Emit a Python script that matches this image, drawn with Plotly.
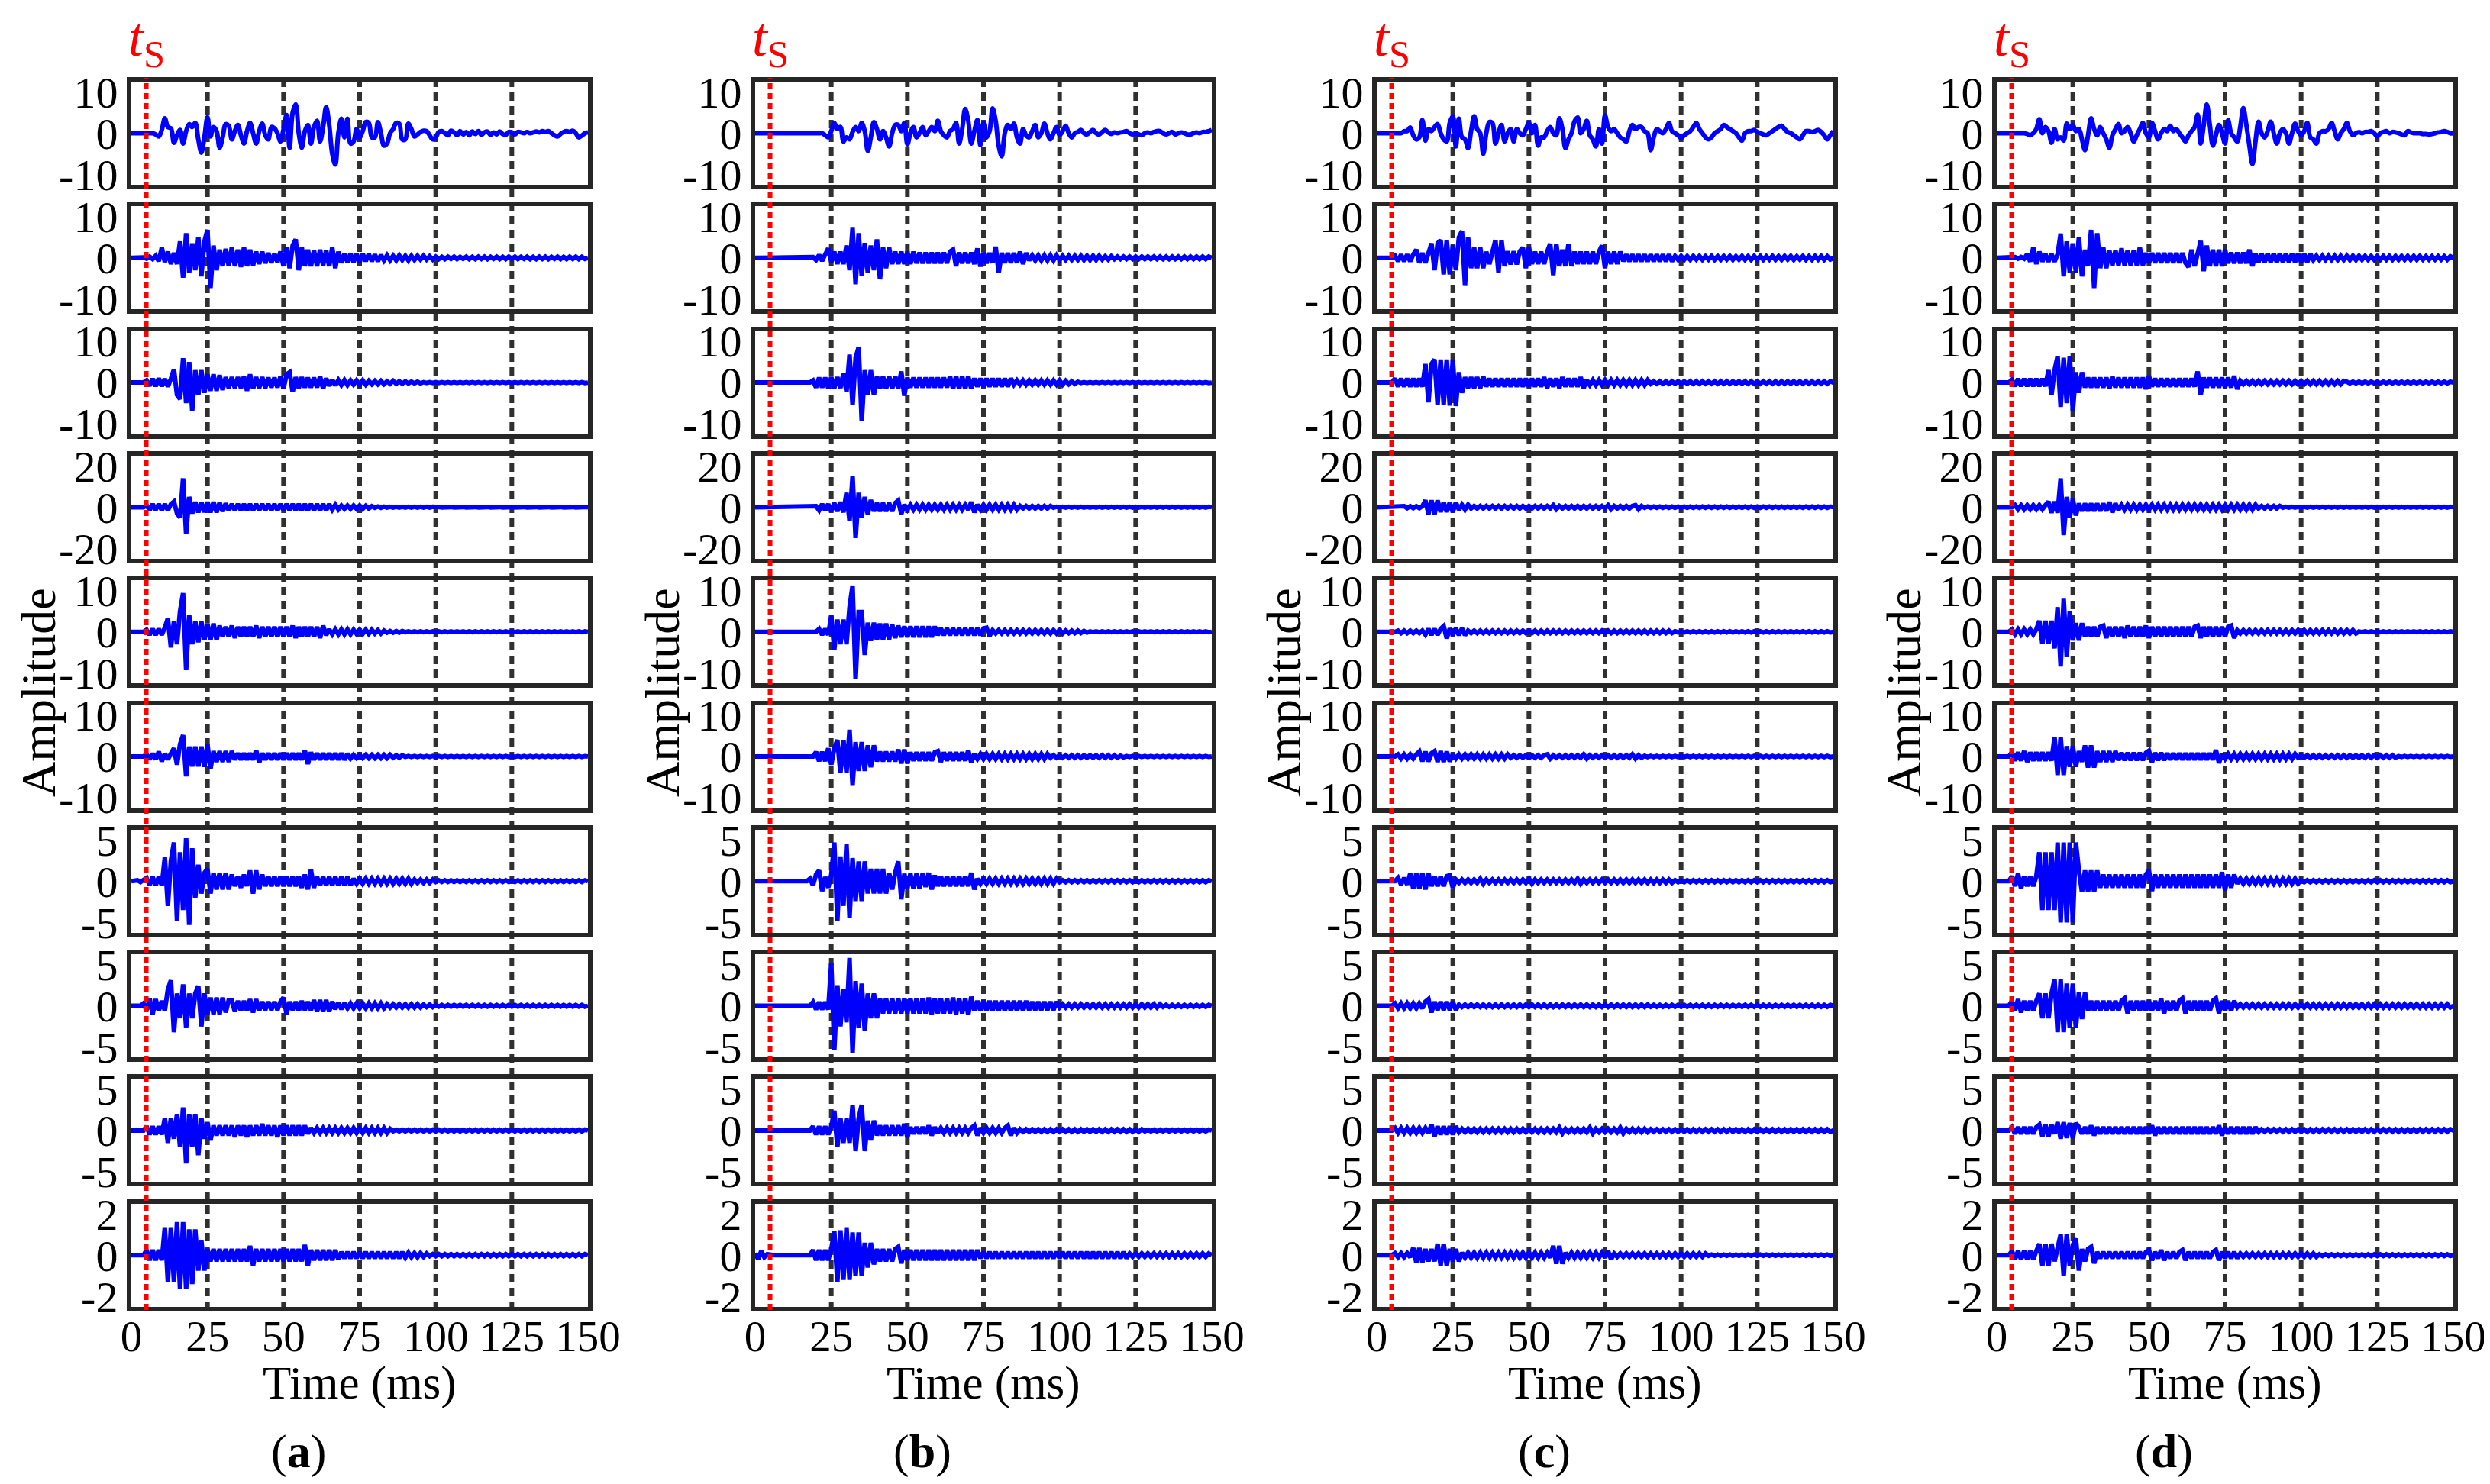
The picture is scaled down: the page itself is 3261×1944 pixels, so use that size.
import plotly.graph_objects as go

W, H = 3261, 1944
T_MS = list(range(151))  # sample times in ms (1 ms step)
Y_TICK = [10, 10, 10, 20, 10, 10, 5, 5, 5, 2]
X_TICKS = [0, 25, 50, 75, 100, 125, 150]
GRID_MS = [25, 50, 75, 100, 125]
TS_MS = 4.9
PANEL_LABELS = ["a", "b", "c", "d"]

# ---------------- column (a) ----------------
A1 = [0,0,0,0,0,0,0,0,-0.3,-0.8,
0.8,3.6,1.5,1.2,-2.3,-0.5,0.8,-2.5,0.5,2.2,
1.5,2.5,-1.5,-4.7,-1,3.9,-0.8,1.5,0.5,-3.5,
-1,2.2,1.8,-1.5,0.5,2,-0.5,-2.5,0.5,2.5,
0,-2.5,0.5,2.3,-0.5,-1.5,1.5,1.2,0,-2,
1,4.4,-3.5,5,7,0,-3.5,0.5,2,-2.5,
1.5,3,-2,1.5,6.4,2,-5,-7.6,0,3.5,
-1,3.5,-2.5,-2,1,-1,0.5,2.7,2.5,-1,
-1,2.7,0,-3,-2.5,0,1,2.5,2.3,-1.5,
-1.5,2.3,1,-0.8,-0.3,0.3,0.6,0.5,-0.5,-1.5,
-1,0.3,0.5,0,-0.5,0.6,0.2,-0.5,0.5,-0.3,
0.3,-0.5,0.4,-0.2,0.5,-0.4,0.2,0.4,-0.4,0.2,
-0.3,0.4,-0.2,-0.4,0.3,0.2,-0.3,0.3,0.2,0,
0.3,0,0.2,0.4,0.2,0.5,0.3,0.5,0,-0.5,
-0.8,-0.2,0.3,0.5,0.3,0.6,0,-1,-0.6,0,
0.2]
A2 = [0,0,0.1,-0.1,0.1,-0.2,0.3,-0.3,0.5,-0.8,
2.5,-1,1.5,-1.5,1.2,-1.5,4,-4.8,6,-3.5,
3.5,-3,5,-4.5,4,6.8,-7.3,3,-3,2,
-2,2.2,-2,2.5,-2,2,-2.2,2.5,-2,2,
-1.8,1.5,-1.5,1.5,-1.3,1.2,-1.2,1,-1,1.5,
-2,2.5,-2.5,3,4.5,-3,2.5,-2,2,-2,
1.8,-2,2,-1.8,1.8,-2,2.5,-2.5,1.5,-1.2,
1,-1,1,-1,0.9,-1,1,-0.8,0.9,-0.8,
0.8,-0.8,0.7,-0.6,0.6,-0.6,0.5,-0.6,0.6,-0.5,
0.5,-0.6,0.5,-0.5,0.5,-0.4,0.5,-0.4,0.4,-0.4,
0.3,-0.3,0.25,-0.3,0.3,-0.25,0.3,-0.3,0.25,-0.25,
0.3,-0.3,0.25,-0.3,0.3,-0.25,0.3,-0.3,0.25,-0.25,
0.3,-0.3,0.25,-0.3,0.3,-0.25,0.3,-0.3,0.25,-0.25,
0.3,-0.3,0.25,-0.3,0.3,-0.25,0.3,-0.3,0.25,-0.25,
0.3,-0.3,0.25,-0.3,0.3,-0.25,0.3,-0.3,0.25,-0.25,
0]
A3 = [0,0,0,0,0,0.5,-0.8,0.9,-0.9,1,
-0.9,0.9,-1,0.9,3.2,-3,-4,5.9,-5,5,
-6.8,3,-3,3,-2.5,2,-2,2,-2,1.8,
-1.8,1.3,-1.3,1.3,-1.3,1.3,-1.3,1.5,-2,2,
-1.5,1.3,-1.3,1.3,-1.3,1.2,-1.2,1.2,-1.2,1.5,
-1.5,2,2.5,-2.3,1.3,-1.3,1.3,-1.2,1.2,-1.2,
1.2,-1.2,1.5,-1.5,1,-0.8,0.7,-0.7,0.6,-0.6,
0.6,-0.6,0.5,-0.5,0.5,-0.5,0.5,-0.5,0.4,-0.4,
0.4,-0.4,0.4,-0.4,0.3,-0.3,0.4,-0.3,0.3,-0.3,
0.3,-0.2,0.2,-0.2,0.2,-0.2,0.1,-0.1,0.1,-0.1,
0.1,-0.1,0.1,-0.1,0.1,-0.1,0.1,-0.1,0.1,-0.1,
0.1,-0.1,0.1,-0.1,0.1,-0.1,0.1,-0.1,0.1,-0.1,
0.1,-0.1,0.1,-0.1,0.1,-0.1,0.1,-0.1,0.1,-0.1,
0.1,-0.1,0.1,-0.1,0.1,-0.1,0.1,-0.1,0.1,-0.1,
0.1,-0.1,0.1,-0.1,0.1,-0.1,0.1,-0.1,0.1,-0.1,
0]
A4 = [0,0,0,0,0,1,-1.5,1.5,-1.2,1.5,
-1.5,1.5,-1.5,1.5,2.7,-3,-5,14,-13,5,
-3,2.5,-2.5,2.4,-2.4,2.5,-2.5,2.5,-2.5,2.2,
-2,1.8,-1.5,1.5,-1.5,1.5,-1.5,1.5,-1.5,1.5,
-1.5,1.5,-1.5,1.5,-1.5,1.5,-1.5,1.5,-1.5,1.5,
-1.5,1.5,-1.5,1.5,-1.5,1.5,-1.5,1.5,-1.5,1.5,
-1.5,1.5,-1.5,1.5,-1.5,1.5,-1.2,1.2,-1,0.8,
-0.8,0.8,-0.8,0.8,-0.8,0.8,-0.8,0.7,-0.6,0.5,
-0.3,0.3,-0.3,0.3,-0.2,0.2,-0.2,0.2,-0.2,0.2,
-0.2,0.2,-0.2,0.2,-0.2,0.2,-0.2,0.2,-0.2,0.2,
-0.1,0.1,-0.1,0.1,-0.1,0.1,-0.1,0.1,-0.1,0.1,
-0.1,0.1,-0.1,0.1,-0.1,0.1,-0.1,0.1,-0.1,0.1,
-0.1,0.1,-0.1,0.1,-0.1,0.1,-0.1,0.1,-0.1,0.1,
-0.1,0.1,-0.1,0.1,-0.1,0.1,-0.1,0.1,-0.1,0.1,
-0.1,0.1,-0.1,0.1,-0.1,0.1,-0.1,0.1,-0.1,0.1,
0]
A5 = [0,0,0,0,0,0.5,-0.7,0.7,-0.7,0.7,
-0.7,1,3.3,-3.8,2.5,-3,5,9.4,-9.3,4,
-3,2.5,-2.5,2.5,-2,2,-2,2,-2,1.5,
-1.2,1.2,-1.2,1.5,-1.5,1.2,-1.2,1.2,-1.2,1.2,
-1.2,1.5,-1.5,1.2,-1.2,1.2,-1.2,1.2,-1.2,1.2,
-1.2,1.2,-1.2,1.5,-1.5,1.2,-1.2,1.2,-1.2,1.2,
-1.2,1.2,-1.5,1.5,-0.8,0.6,-0.6,0.6,-0.6,0.6,
-0.6,0.6,-0.6,0.5,-0.5,0.5,-0.5,0.5,-0.5,0.5,
-0.4,0.4,-0.4,0.3,-0.2,0.2,-0.2,0.2,-0.2,0.2,
-0.1,0.1,-0.1,0.1,-0.1,0.1,-0.1,0.1,-0.1,0.1,
-0.1,0.1,-0.1,0.1,-0.1,0.1,-0.1,0.1,-0.1,0.1,
-0.1,0.1,-0.1,0.1,-0.1,0.1,-0.1,0.1,-0.1,0.1,
-0.1,0.1,-0.1,0.1,-0.1,0.1,-0.1,0.1,-0.1,0.1,
-0.1,0.1,-0.1,0.1,-0.1,0.1,-0.1,0.1,-0.1,0.1,
-0.1,0.1,-0.1,0.1,-0.1,0.1,-0.1,0.1,-0.1,0.1,
0]
A6 = [0,0,0,0,0,0.6,-0.7,0.7,-0.7,1.2,
-1.2,0.7,-0.7,0.7,2,-2,3,5.2,-4.8,2.4,
-2.4,2.4,-2.4,2.4,-2.5,3,-3,1.3,-1.3,1.3,
-1.3,1.3,-1.3,1.3,-0.8,0.8,-0.8,0.8,-0.8,0.8,
-0.8,1.5,-1.5,0.8,-0.8,0.8,-0.8,0.8,-0.8,0.8,
-0.8,0.8,-0.8,0.8,-0.8,0.8,-0.8,1.4,-1.8,1,
-0.8,0.8,-0.8,0.8,-0.8,0.8,-0.8,0.8,-0.8,0.8,
-0.8,0.7,-0.5,0.4,-0.4,0.4,-0.4,0.4,-0.4,0.4,
-0.4,0.4,-0.4,0.4,-0.4,0.4,-0.3,0.3,-0.3,0.3,
-0.1,0.1,-0.1,0.1,-0.1,0.1,-0.1,0.1,-0.1,0.1,
-0.1,0.1,-0.1,0.1,-0.1,0.1,-0.1,0.1,-0.1,0.1,
-0.1,0.1,-0.1,0.1,-0.1,0.1,-0.1,0.1,-0.1,0.1,
-0.1,0.1,-0.1,0.1,-0.1,0.1,-0.1,0.1,-0.1,0.1,
-0.1,0.1,-0.1,0.1,-0.1,0.1,-0.1,0.1,-0.1,0.1,
-0.1,0.1,-0.1,0.1,-0.1,0.1,-0.1,0.1,-0.1,0.1,
0]
A7 = [0,0,0.1,-0.1,0.1,0.4,-0.5,0.5,-0.5,0.5,
-0.5,2.9,-3,2.5,4.7,-4.8,3.5,-3.5,5.2,-5.3,
4,-2,2,-1.5,1,1.5,-1.5,1,-1,1,
-1,1,-1,0.8,-0.6,0.6,-0.8,0.8,-0.6,1.3,
-1.5,1.3,-1,0.8,-0.6,0.6,-0.6,0.6,-0.6,0.6,
-0.6,0.6,-0.6,0.6,-0.6,0.6,-0.8,0.8,-1,1.4,
-0.8,0.5,-0.5,0.5,-0.5,0.5,-0.5,0.5,-0.5,0.5,
-0.5,0.5,-0.5,0.3,-0.3,0.3,-0.3,0.3,-0.3,0.3,
-0.3,0.3,-0.3,0.3,-0.3,0.3,-0.3,0.3,-0.3,0.3,
-0.3,0.3,-0.3,0.2,-0.2,0.2,-0.2,0.2,-0.2,0.2,
-0.1,0.1,-0.1,0.1,-0.1,0.1,-0.1,0.1,-0.1,0.1,
-0.1,0.1,-0.1,0.1,-0.1,0.1,-0.1,0.1,-0.1,0.1,
-0.1,0.1,-0.1,0.1,-0.1,0.1,-0.1,0.1,-0.1,0.1,
-0.1,0.1,-0.1,0.1,-0.1,0.1,-0.1,0.1,-0.1,0.1,
-0.1,0.1,-0.1,0.1,-0.1,0.1,-0.1,0.1,-0.1,0.1,
0]
A8 = [0,0,0,0,0.3,-0.6,0.9,-1,0.8,-0.6,
0.6,-0.6,2,3.1,-3.2,1.5,-1.5,2.6,-2.6,1.5,
-1.5,1.5,2.4,-2.5,1.5,-1,1,-1,1,-1,
1,-0.8,0.7,0.7,-0.7,0.6,-0.6,0.6,-0.6,0.8,
-0.8,0.8,-0.6,0.5,-0.5,0.5,-0.5,0.5,-0.5,0.5,
1,-1,0.5,-0.5,0.5,-0.6,0.6,-0.5,0.5,-0.5,
0.7,-0.7,0.7,-0.7,0.7,-0.7,0.5,-0.4,0.4,-0.4,
0.3,-0.3,0.3,-0.3,0.3,-0.3,0.3,-0.3,0.3,-0.3,
0.3,-0.3,0.3,-0.3,0.2,-0.2,0.2,-0.2,0.2,-0.2,
0.2,-0.2,0.2,-0.2,0.2,-0.2,0.15,-0.15,0.15,-0.15,
0.1,-0.1,0.1,-0.1,0.1,-0.1,0.1,-0.1,0.1,-0.1,
0.1,-0.1,0.1,-0.1,0.1,-0.1,0.1,-0.1,0.1,-0.1,
0.1,-0.1,0.1,-0.1,0.1,-0.1,0.1,-0.1,0.1,-0.1,
0.1,-0.1,0.1,-0.1,0.1,-0.1,0.1,-0.1,0.1,-0.1,
0.1,-0.1,0.1,-0.1,0.1,-0.1,0.1,-0.1,0.1,-0.1,
0]
A9 = [0,0,0,0,0,0.5,-0.5,0.5,-0.5,0.5,
-0.5,1.5,-1.5,1.5,-1,2,-2,2.8,-4,2,
-2,2,-3,1.5,-1,1,-1.2,0.6,-0.6,0.6,
-0.6,0.6,-0.6,0.6,-0.8,0.6,-0.6,0.6,-0.8,0.6,
-0.6,0.6,-0.6,0.8,-0.6,0.6,-0.6,0.6,-0.8,0.6,
-0.6,0.6,-0.6,0.6,-0.6,0.6,-0.6,0.6,-0.4,0.3,
-0.3,0.3,-0.3,0.3,-0.3,0.3,-0.3,0.3,-0.3,0.3,
-0.3,0.3,-0.3,0.3,-0.3,0.3,-0.3,0.3,-0.3,0.3,
-0.3,0.3,-0.3,0.3,-0.3,0.2,-0.1,0.1,-0.1,0.1,
-0.1,0.1,-0.1,0.1,-0.1,0.1,-0.1,0.1,-0.1,0.1,
-0.1,0.1,-0.1,0.1,-0.1,0.1,-0.1,0.1,-0.1,0.1,
-0.1,0.1,-0.1,0.1,-0.1,0.1,-0.1,0.1,-0.1,0.1,
-0.1,0.1,-0.1,0.1,-0.1,0.1,-0.1,0.1,-0.1,0.1,
-0.1,0.1,-0.1,0.1,-0.1,0.1,-0.1,0.1,-0.1,0.1,
-0.1,0.1,-0.1,0.1,-0.1,0.1,-0.1,0.1,-0.1,0.1,
0]
A10 = [0,0,0,0,0,0.25,-0.25,0.25,-0.25,0.25,
-0.25,1.35,-1.3,1.35,-1.3,1.6,-1.65,1.6,-1.65,1.25,
-1.4,1.25,-0.75,0.7,-0.75,0.3,-0.3,0.3,-0.3,0.3,
-0.3,0.3,-0.3,0.3,-0.3,0.3,-0.3,0.3,-0.3,0.45,
-0.5,0.3,-0.3,0.3,-0.3,0.3,-0.3,0.3,-0.3,0.3,
-0.3,0.3,-0.3,0.3,-0.3,0.3,-0.3,0.5,-0.5,0.25,
-0.25,0.25,-0.25,0.25,-0.25,0.25,-0.25,0.25,-0.2,0.15,
-0.15,0.15,-0.15,0.15,-0.15,0.15,-0.15,0.15,-0.15,0.15,
-0.15,0.15,-0.15,0.15,-0.15,0.15,-0.15,0.15,-0.15,0.15,
-0.12,0.12,-0.1,0.1,-0.1,0.1,-0.08,0.08,-0.05,0.05,
-0.05,0.05,-0.05,0.05,-0.05,0.05,-0.05,0.05,-0.05,0.05,
-0.05,0.05,-0.05,0.05,-0.05,0.05,-0.05,0.05,-0.05,0.05,
-0.05,0.05,-0.05,0.05,-0.05,0.05,-0.05,0.05,-0.05,0.05,
-0.05,0.05,-0.05,0.05,-0.05,0.05,-0.05,0.05,-0.05,0.05,
-0.05,0.05,-0.05,0.05,-0.05,0.05,-0.05,0.05,-0.05,0.05,
0]

# ---------------- column (b) ----------------
B1 = [0,0,0,0,0,0,0,0,0,0,
0,0,0,0,0,0,0,0,0,0,
0,0,0,-0.5,-1,0.5,2.5,1,1.5,-2,
-1,-1.5,0.3,1.5,0.5,2.5,0.5,-4.3,-1,2.7,
1,-1.5,0.5,-1,-3.2,0,2,2,0.5,2.5,
-2.7,0,1.5,-1,0,1.5,-0.5,0.5,1.5,0.5,
3,0.5,-0.5,-1,0.5,1,2.5,-2.5,1,5.9,
3,-2.5,0.5,3.2,-2.9,2.5,-1,0.5,6,3,
-3,-5.6,0,2,1,2.3,-1,-2.5,1,-0.5,
-1,0.5,2,-1,0,2.3,0,-1.5,0,1.5,
-0.5,0.5,1.8,0,-1,0,0.3,0.8,0,-0.3,
0.3,0.8,0,-0.3,0.3,0.8,0.2,-0.2,0.2,0,
0.2,0.3,0.5,0,-0.3,0,-0.3,-0.5,0,0.2,
0,0.3,0.5,0.5,0,-0.3,0,0.3,-0.3,0,
0.2,0,-0.3,-0.3,0,0.2,0,0.3,0.3,0.5,
0.8]
B2 = [0,0,0,0,0,0,0,0,0,0,
0,0,0,0,0,0,0,0,0,0.2,
-0.5,0.7,-0.7,0.7,2.3,-1,1.5,-1.5,1.5,-1.5,
3,-3,7.3,-6.4,6,-4.3,3.6,-3.6,3,-3,
4.5,-5.2,2.5,-2.5,2.5,-1.5,1.5,-1.5,1.5,-1.5,
1.5,-1.5,1.5,-1.3,1.3,-1.3,1.3,-1.3,1.3,-1.3,
1.3,-1.3,1.3,-1.3,1.5,2,-2,1.3,-1.3,1.3,
-1.3,1.3,-1.5,2.3,-2.1,1.3,-1.3,1.2,-1.2,2.7,
-3.6,1.2,-1.2,1.2,-1.2,1.2,-1.2,1.5,-1.5,1.2,
-0.6,0.6,-0.6,0.6,-0.6,0.6,-0.6,0.6,-0.6,0.6,
-0.5,0.5,-0.5,0.5,-0.5,0.5,-0.5,0.5,-0.5,0.5,
-0.5,0.5,-0.5,0.5,-0.4,0.4,-0.4,0.4,-0.3,0.3,
-0.3,0.3,-0.3,0.3,-0.3,0.3,-0.3,0.3,-0.3,0.3,
-0.3,0.3,-0.3,0.3,-0.3,0.3,-0.3,0.3,-0.3,0.3,
-0.3,0.3,-0.3,0.3,-0.3,0.3,-0.3,0.3,-0.3,0.3,
0]
B3 = [0,0,0,0,0,0,0,0,0,0,
0,0,0,0,0,0,0,0,0,0.5,
-1.2,1.2,-1.2,1.2,-1.3,1.3,-1.3,1.3,-1.3,2.3,
-2.3,6.8,-5.5,6,8.6,-9.4,3,-3,3,-3,
1.5,-1.5,1.5,-1.5,1.5,-1.5,1.5,-1.5,2.7,-3.2,
1.2,-1.2,1.2,-1.2,1.2,-1.2,1.2,-1.2,1.2,-1.2,
1.2,-1.2,1.2,-1.2,1.5,-1.5,1.5,-1.5,1.5,-1.5,
1.5,-1.5,1,-1,1,-1,1,-1,1,-1,
1,-1,1,-1,1,-0.5,0.5,-0.5,0.5,-0.5,
0.5,-0.5,0.5,-0.5,0.5,-0.5,0.5,-0.5,0.5,-0.5,
0.5,-0.5,0.4,-0.4,0.3,-0.3,0.2,-0.1,0.1,-0.1,
0.1,-0.1,0.1,-0.1,0.1,-0.1,0.1,-0.1,0.1,-0.1,
0.1,-0.1,0.1,-0.1,0.1,-0.1,0.1,-0.1,0.1,-0.1,
0.1,-0.1,0.1,-0.1,0.1,-0.1,0.1,-0.1,0.1,-0.1,
0.1,-0.1,0.1,-0.1,0.1,-0.1,0.1,-0.1,0.1,-0.1,
0]
B4 = [0,0,0,0,0,0,0,0,0,0,
0,0,0,0,0,0,0,0,0,0,
0.5,-1.5,1.5,-1.5,1.5,-2,2,-2,2.5,-2.5,
7,-6.7,15,-15,7,-5,5,-3.5,3.5,-2,
2,-2,2,-2,2,-2,2,3.3,-3.3,1.2,
-1.2,1.2,-1.2,1.2,-1.2,1.2,-1.2,1.2,-1.2,1.2,
-1.2,1.2,-1.2,1.2,-1.2,1.2,-1.2,1.2,-1.2,1.2,
-1.2,2.5,-2.5,1.2,-1.2,1.2,-1.2,1.2,-1.2,1.2,
-1.2,1.2,-1.2,1.2,-1.2,1.2,-1.2,0.6,-0.6,0.6,
-0.6,0.6,-0.6,0.6,-0.6,0.6,-0.6,0.6,-0.2,0.2,
-0.2,0.2,-0.2,0.2,-0.2,0.2,-0.2,0.2,-0.2,0.2,
-0.2,0.2,-0.2,0.2,-0.2,0.2,-0.2,0.2,-0.2,0.2,
-0.2,0.2,-0.2,0.2,-0.2,0.2,-0.2,0.2,-0.2,0.2,
-0.2,0.2,-0.2,0.2,-0.2,0.2,-0.2,0.2,-0.2,0.2,
-0.2,0.2,-0.2,0.2,-0.2,0.2,-0.2,0.2,-0.2,0.2,
0]
B5 = [0,0,0,0,0,0,0,0,0,0,
0,0,0,0,0,0,0,0,0,0,
0,0.7,-0.7,0.7,-0.7,3.9,-4.3,3,-3,3,
-3,6,11.2,-11.5,4.8,4.8,-5.6,2.2,-2.2,2.2,
-2,2,-2,2,-1.8,1.8,-1.5,1.5,-1.3,1.3,
-1.3,1.3,-1.3,1.3,-1.3,1.3,-1.3,1.3,-1.3,1.3,
-0.8,0.8,-0.8,0.8,-0.8,0.8,-0.8,0.8,-0.8,0.8,
-0.8,0.8,-0.8,0.8,-0.8,0.8,1,-1,0.4,-0.4,
0.4,-0.4,0.4,-0.4,0.4,-0.4,0.4,-0.4,0.4,-0.4,
0.4,-0.4,0.4,-0.4,0.4,-0.4,0.4,-0.4,0.4,-0.4,
0.4,-0.4,0.3,-0.3,0.3,-0.3,0.3,-0.3,0.2,-0.2,
0.1,-0.1,0.1,-0.1,0.1,-0.1,0.1,-0.1,0.1,-0.1,
0.1,-0.1,0.1,-0.1,0.1,-0.1,0.1,-0.1,0.1,-0.1,
0.1,-0.1,0.1,-0.1,0.1,-0.1,0.1,-0.1,0.1,-0.1,
0.1,-0.1,0.1,-0.1,0.1,-0.1,0.1,-0.1,0.1,-0.1,
0]
B6 = [0,0,0,0,0,0,0,0,0,0,
0,0,0,0,0,0,0,0,0,0,
1.1,-1.1,1.1,-1.1,2,-2,2,4,-4,4,
-4,6.5,-6.9,3.5,-3.5,3.5,-3.5,2.7,-2.6,2.7,
-1.2,1.2,-1.2,1.2,-1.2,1.2,-1.2,1.7,-1.7,1.7,
-1.7,1,-1,1,-1,1,-1,1,-1,1,
1.3,-1.3,1,-1,1,-1,1,-1,1,-1,
1.5,-1.5,0.6,-0.6,0.6,-0.6,0.6,-0.6,0.6,-0.6,
0.6,-0.6,0.6,-0.6,0.6,-0.6,0.6,-0.6,0.6,-0.6,
0.6,-0.6,0.6,-0.6,0.6,-0.6,0.6,-0.3,0.3,-0.3,
0.3,-0.3,0.3,-0.3,0.3,-0.3,0.3,-0.3,0.3,-0.3,
0.3,-0.3,0.3,-0.3,0.3,-0.3,0.3,-0.3,0.3,-0.3,
0.2,-0.2,0.1,-0.1,0.1,-0.1,0.1,-0.1,0.1,-0.1,
0.1,-0.1,0.1,-0.1,0.1,-0.1,0.1,-0.1,0.1,-0.1,
0.1,-0.1,0.1,-0.1,0.1,-0.1,0.1,-0.1,0.1,-0.1,
0]
B7 = [0,0,0,0,0,0,0,0,0,0,
0,0,0,0,0,0,0,0,0.3,-0.5,
0.8,1.3,-1.2,0.5,-0.8,0.8,4.7,-4.8,3,-3,
4.5,-4.4,2.8,-2.4,2.4,-2.4,2.4,-1.5,1.5,-1.5,
1.5,-1.5,1.5,-1.5,1,-1,1,2.4,-2.2,0.9,
-0.9,0.9,-0.9,0.9,-0.9,0.9,-0.7,1,-1,0.7,
-0.6,0.6,-0.6,0.6,-0.6,0.6,-0.6,0.6,-0.6,0.6,
-0.6,1,-1,0.3,-0.3,0.3,-0.3,0.3,-0.3,0.3,
-0.3,0.3,-0.3,0.3,-0.3,0.3,-0.3,0.3,-0.3,0.3,
-0.3,0.3,-0.3,0.3,-0.3,0.3,-0.3,0.3,-0.3,0.3,
-0.12,0.12,-0.12,0.12,-0.12,0.12,-0.12,0.12,-0.12,0.12,
-0.12,0.12,-0.12,0.12,-0.12,0.12,-0.12,0.12,-0.12,0.12,
-0.12,0.12,-0.12,0.12,-0.12,0.12,-0.12,0.12,-0.12,0.12,
-0.12,0.12,-0.12,0.12,-0.12,0.12,-0.12,0.12,-0.12,0.12,
-0.12,0.12,-0.12,0.12,-0.12,0.12,-0.12,0.12,-0.12,0.12,
0]
B8 = [0,0,0,0,0,0,0,0,0,0,
0,0,0,0,0,0,0,0,0,0.45,
-0.45,0.45,-0.45,0.45,-0.45,5.2,-5.4,2.5,-2.5,2,
-2,5.8,-5.7,3,-2.7,2.7,-3,1.5,-1.5,1.5,
-1.5,0.9,-0.9,0.9,-0.9,0.9,-0.9,0.9,-0.9,0.9,
-0.9,0.9,-0.9,0.9,-0.9,0.9,-0.9,1,-1,0.9,
-0.9,0.9,-0.9,0.9,-0.9,1,-1,0.9,-0.9,0.9,
-1.1,1.1,-0.6,0.6,-0.6,0.6,-0.6,0.6,-0.6,0.6,
-0.6,0.6,-0.6,0.6,-0.6,0.6,-0.6,0.6,-0.6,0.6,
-0.5,0.5,-0.5,0.5,-0.5,0.5,-0.5,0.5,-0.5,0.5,
-0.2,0.2,-0.2,0.2,-0.2,0.2,-0.2,0.2,-0.2,0.2,
-0.2,0.2,-0.2,0.2,-0.2,0.2,-0.2,0.2,-0.2,0.2,
-0.2,0.2,-0.2,0.2,-0.2,0.2,-0.2,0.2,-0.2,0.2,
-0.2,0.2,-0.2,0.2,-0.12,0.12,-0.12,0.12,-0.12,0.12,
-0.12,0.12,-0.12,0.12,-0.12,0.12,-0.12,0.12,-0.12,0.12,
0]
B9 = [0,0,0,0,0,0,0,0,0,0,
0,0,0,0,0,0,0,0,0,0.5,
-0.5,0.5,-0.5,0.5,-0.5,0.5,2.4,-2,1.5,-1.5,
1.5,-1.5,3.1,-2.5,1.5,3.1,-2.5,1.2,-1.2,1.2,
-0.6,0.6,-0.6,0.6,-0.6,0.6,-0.6,0.6,-0.6,0.8,
-0.8,0.4,-0.4,0.4,-0.4,0.4,-0.4,0.6,-0.6,0.4,
-0.3,0.3,-0.3,0.3,-0.3,0.3,-0.3,0.3,-0.3,0.3,
-0.3,0.3,0.6,-0.6,0.3,-0.3,0.3,-0.3,0.3,-0.3,
0.3,-0.3,0.3,0.6,-0.6,0.3,-0.3,0.15,-0.15,0.15,
-0.15,0.15,-0.15,0.15,-0.15,0.15,-0.15,0.15,-0.15,0.15,
-0.15,0.15,-0.15,0.15,-0.15,0.15,-0.15,0.15,-0.15,0.15,
-0.15,0.15,-0.15,0.15,-0.15,0.15,-0.15,0.15,-0.15,0.15,
-0.15,0.15,-0.15,0.15,-0.15,0.15,-0.15,0.15,-0.1,0.1,
-0.1,0.1,-0.1,0.1,-0.1,0.1,-0.1,0.1,-0.1,0.1,
-0.1,0.1,-0.1,0.1,-0.1,0.1,-0.1,0.1,-0.1,0.1,
0]
B10 = [0.1,-0.2,0.2,-0.1,0.05,0,0,0,0,0,
0,0,0,0,0,0,0,0,0,0.25,
-0.25,0.25,-0.25,0.25,-0.25,0.3,1.15,-1.3,1.2,-1.2,
1.35,-1.2,1.1,-1,1.1,-1,0.6,-0.6,0.6,-0.45,
0.3,-0.3,0.3,-0.3,0.3,-0.3,0.3,0.4,-0.4,0.25,
-0.25,0.25,-0.25,0.25,-0.25,0.25,-0.25,0.25,-0.25,0.25,
-0.25,0.25,-0.25,0.25,-0.25,0.25,-0.25,0.25,-0.25,0.25,
-0.25,0.25,-0.25,0.25,-0.15,0.15,-0.15,0.15,-0.15,0.15,
-0.15,0.15,-0.15,0.15,-0.15,0.15,-0.15,0.15,-0.15,0.15,
-0.15,0.15,-0.15,0.15,-0.15,0.15,-0.15,0.15,-0.15,0.15,
-0.15,0.15,-0.15,0.15,-0.15,0.15,-0.15,0.15,-0.15,0.15,
-0.15,0.15,-0.15,0.15,-0.15,0.15,-0.15,0.15,-0.15,0.15,
-0.15,0.15,-0.15,0.08,-0.08,0.08,-0.08,0.08,-0.08,0.08,
-0.08,0.08,-0.08,0.08,-0.08,0.08,-0.08,0.08,-0.08,0.08,
-0.08,0.08,-0.08,0.08,-0.08,0.08,-0.08,0.08,-0.08,0.08,
0]

# ---------------- column (c) ----------------
C1 = [0,0,0,0,0,0,0,0,0,0.5,
0.5,1.4,-0.5,-1.5,-1,3.2,-1.8,1,0.5,1.5,
2.2,0,-1.5,-2,2.5,4.1,-3.2,3.5,-1,-1.5,
-3.6,0.5,4.1,1,0,-5,0,2.7,2.5,-2.5,
0,2,-2,0,1,-2,1,0,-0.5,1,
2.5,0,2,-3,-1,-1,0.5,1.5,0,-0.5,
3.6,1,-3.6,-1.5,0,2.9,3.8,0,1,3,
-0.5,-1.5,-3.2,1,-2.5,4.3,1.5,0.5,1,0,
-1,-1.5,-2,0.5,2,1,1.5,1.5,0.5,0,
-4.1,-1,1,0.5,0,1,2.5,0.5,0,-0.5,
-1.2,-0.5,0,0.5,1.5,2.5,1,0,-1,-1.5,
-1,0,0.5,1,2,1.5,1,0.5,0,-1,
-1.8,0,0.5,0.5,0.8,0.3,0,-0.3,-0.5,0,
0.5,1,1.5,1.8,1,0.3,0,-0.5,-1,-1.5,
-0.5,0.5,0.5,0.3,0.5,0.8,0.3,-0.5,-1.5,-0.5,
0.5]
C2 = [0,0,0,0,0,0,0.5,-0.8,0.8,-0.8,
0.8,-0.8,0.8,2,-1.2,1.2,-1.2,1.2,3.5,-3,
3.5,4.3,-4,4.3,-4,3,-3,5,6.5,-6.6,
5,-2.5,2.5,-2.5,2.5,-2.5,1.5,-1.5,1.5,4.3,
-3.5,4.3,-2,1.6,-1.6,1.6,-1.6,1.6,2.5,-2.5,
2.5,-1.5,1.5,-1.5,1.5,-1.5,1.5,3.4,-4.2,3.4,
-2,2,-2,3.4,-2,1.5,-1.5,1.5,-1.5,1.5,
-1.5,1.5,-1.5,1.5,3,-2.5,1.5,-1.5,1.5,-1.5,
1.5,-0.8,0.8,-0.8,0.8,-0.8,0.8,-0.8,0.8,-0.8,
0.8,-0.8,0.8,-0.8,0.8,-0.8,0.8,-0.8,0.45,-0.45,
0.45,-0.45,0.4,-0.45,0.45,-0.4,0.45,-0.45,0.4,-0.4,
0.45,-0.45,0.4,-0.45,0.45,-0.4,0.45,-0.45,0.4,-0.4,
0.45,-0.45,0.4,-0.45,0.45,-0.4,0.45,-0.45,0.4,-0.4,
0.45,-0.45,0.4,-0.45,0.45,-0.4,0.45,-0.45,0.4,-0.4,
0.45,-0.45,0.4,-0.45,0.45,-0.4,0.45,-0.45,0.4,-0.4,
0]
C3 = [0,0,0,0,0,0,1,-1,1,-1,
1,-1,1,-1,1,-1,4.5,-4.8,4.5,5.6,
-5.3,5.6,-5.3,5.6,-5.6,5.6,-5.7,2.5,-2.5,1.3,
-1.3,1.3,-1.3,1.3,-1.3,1.5,-1,1,-1,1,
-1,1,-1,1,-1,1,-1,1,-1,1,
-1,1,-1,1,-1,1.3,-1.3,1,-1,1,
-1.3,1.3,-1,1,-1,1,-1,1.3,-1.3,0.6,
-0.6,0.6,-0.6,0.6,-0.6,0.6,-0.6,0.6,-0.6,0.6,
-0.6,0.6,-0.6,0.6,-0.6,0.6,-0.6,0.6,-0.6,0.6,
-0.3,0.3,-0.3,0.3,-0.3,0.3,-0.3,0.3,-0.3,0.3,
-0.3,0.3,-0.3,0.3,-0.3,0.3,-0.3,0.3,-0.3,0.3,
-0.3,0.3,-0.3,0.3,-0.3,0.3,-0.3,0.3,-0.3,0.3,
-0.3,0.3,-0.3,0.3,-0.3,0.3,-0.3,0.3,-0.3,0.3,
-0.3,0.3,-0.3,0.3,-0.3,0.3,-0.3,0.3,-0.3,0.3,
-0.3,0.3,-0.3,0.3,-0.3,0.3,-0.3,0.3,-0.3,0.3,
0]
C4 = [0,0,0,0,0,0,0,0,0,0.5,
-0.5,0.5,-0.5,0.5,-0.5,0.5,3.3,-3.3,3.3,-3.3,
3.3,-2.3,2.3,-2.3,2.3,-2.3,2.3,-1.2,1.2,-1.2,
1.2,-0.6,0.6,-0.6,0.6,-0.6,0.6,-0.6,0.6,-0.6,
0.6,-0.6,0.6,-0.6,0.6,-0.6,0.6,-0.6,0.6,-0.6,
0.6,-0.6,0.6,-0.6,0.6,-0.6,0.6,-0.6,1,-1,
0.6,-0.6,0.6,-0.6,0.6,-0.6,0.6,-0.6,0.6,-0.6,
0.6,-0.6,0.6,-0.6,0.6,-0.6,1,-1,0.6,-0.6,
0.6,-0.6,0.6,-0.6,0.6,1,-1,0.6,-0.3,0.3,
-0.3,0.3,-0.3,0.3,-0.3,0.3,-0.3,0.3,-0.3,0.3,
-0.3,0.3,-0.3,0.3,-0.3,0.3,-0.3,0.3,-0.3,0.3,
-0.3,0.3,-0.3,0.3,-0.3,0.3,-0.3,0.3,-0.3,0.3,
-0.3,0.3,-0.3,0.3,-0.3,0.3,-0.3,0.3,-0.3,0.3,
-0.3,0.3,-0.3,0.3,-0.3,0.3,-0.3,0.3,-0.3,0.3,
-0.3,0.3,-0.3,0.3,-0.3,0.3,-0.3,0.3,-0.3,0.3,
0]
C5 = [0,0,0,0,0,0,0,0.3,-0.3,0.3,
-0.3,0.3,-0.3,0.3,-0.3,0.3,-0.7,0.7,-0.7,0.7,
-0.7,0.7,1.4,-1.6,0.8,-0.8,0.8,-0.8,0.8,-0.8,
0.3,-0.3,0.3,-0.3,0.3,-0.3,0.3,-0.3,0.3,-0.3,
0.3,-0.3,0.3,-0.3,0.3,-0.3,0.3,-0.3,0.3,-0.3,
0.3,-0.3,0.3,-0.3,0.3,-0.3,0.3,-0.3,0.3,-0.3,
0.3,-0.3,0.3,-0.3,0.3,-0.3,0.3,-0.3,0.3,-0.3,
0.3,-0.3,0.3,-0.3,0.3,-0.3,0.3,-0.3,0.3,-0.3,
0.3,-0.3,0.3,-0.3,0.3,-0.3,0.3,-0.3,0.3,-0.3,
0.3,-0.3,0.3,-0.3,0.3,-0.3,0.3,-0.3,0.15,-0.15,
0.15,-0.15,0.15,-0.15,0.15,-0.15,0.15,-0.15,0.15,-0.15,
0.15,-0.15,0.15,-0.15,0.15,-0.15,0.15,-0.15,0.15,-0.15,
0.15,-0.15,0.15,-0.15,0.15,-0.15,0.15,-0.15,0.15,-0.15,
0.15,-0.15,0.15,-0.15,0.15,-0.15,0.15,-0.15,0.15,-0.15,
0.15,-0.15,0.15,-0.15,0.15,-0.15,0.15,-0.15,0.15,-0.15,
0]
C6 = [0,0,0,0,0,0,0,0.5,-0.5,0.5,
-0.5,0.5,-0.5,0.5,1.2,-1.2,1.2,-1.2,0.8,1.3,
-1.3,1.3,-1.3,1.2,-1.2,0.5,-0.5,0.5,-0.5,0.5,
-0.5,0.5,-0.5,0.5,-0.5,0.5,-0.5,0.5,-0.5,0.5,
-0.5,0.5,-0.5,0.5,-0.3,0.3,-0.3,0.3,-0.3,0.3,
-0.3,0.3,-0.3,0.3,-0.3,0.3,0.5,-0.5,0.3,-0.3,
0.3,-0.3,0.3,-0.3,0.3,-0.3,0.3,-0.3,0.5,-0.5,
0.3,-0.3,0.3,-0.3,0.3,-0.3,0.3,-0.3,0.3,-0.3,
0.3,-0.3,0.3,-0.3,0.5,-0.5,0.3,-0.3,0.15,-0.15,
0.15,-0.15,0.15,-0.15,0.15,-0.15,0.15,-0.15,0.15,-0.15,
0.15,-0.15,0.15,-0.15,0.15,-0.15,0.15,-0.15,0.15,-0.15,
0.15,-0.15,0.15,-0.15,0.15,-0.15,0.15,-0.15,0.15,-0.15,
0.15,-0.15,0.15,-0.15,0.15,-0.15,0.15,-0.15,0.15,-0.15,
0.15,-0.15,0.15,-0.15,0.15,-0.15,0.15,-0.15,0.15,-0.15,
0.15,-0.15,0.15,-0.15,0.15,-0.15,0.15,-0.15,0.15,-0.15,
0]
C7 = [0,0,0,0,0,0,0,0.4,-0.4,0.4,
-0.4,0.9,-0.9,0.9,-0.9,1,-1,0.9,-0.6,0.6,
-0.6,0.6,-0.6,0.6,0.7,-0.8,0.2,-0.2,0.2,-0.2,
0.2,-0.2,0.2,-0.2,0.3,-0.3,0.2,-0.2,0.2,-0.2,
0.2,-0.2,0.2,-0.2,0.2,-0.2,0.2,-0.2,0.2,-0.2,
0.3,-0.3,0.2,-0.2,0.2,-0.2,0.2,-0.2,0.2,-0.2,
0.2,-0.2,0.2,-0.2,0.2,-0.2,0.3,-0.3,0.2,-0.2,
0.2,-0.2,0.2,-0.2,0.2,-0.2,0.2,-0.2,0.2,-0.2,
0.2,-0.2,0.2,-0.2,0.2,-0.2,0.2,-0.2,0.2,-0.2,
0.2,-0.2,0.2,-0.2,0.2,-0.2,0.2,-0.2,0.12,-0.12,
0.12,-0.12,0.12,-0.12,0.12,-0.12,0.12,-0.12,0.12,-0.12,
0.12,-0.12,0.12,-0.12,0.12,-0.12,0.12,-0.12,0.12,-0.12,
0.12,-0.12,0.12,-0.12,0.12,-0.12,0.12,-0.12,0.12,-0.12,
0.12,-0.12,0.12,-0.12,0.12,-0.12,0.12,-0.12,0.12,-0.12,
0.12,-0.12,0.12,-0.12,0.12,-0.12,0.12,-0.12,0.12,-0.12,
0]
C8 = [0,0,0,0,0,0,0.3,-0.3,0.3,-0.3,
0.3,-0.3,0.3,-0.3,0.3,-0.3,0.5,0.8,-0.8,0.5,
-0.5,0.5,-0.5,0.5,-0.5,0.5,-0.5,0.15,-0.15,0.15,
-0.15,0.15,-0.15,0.15,-0.15,0.15,-0.15,0.15,-0.15,0.15,
-0.15,0.15,-0.15,0.15,-0.15,0.15,-0.15,0.15,-0.15,0.15,
-0.15,0.15,-0.15,0.15,-0.15,0.15,-0.15,0.15,-0.15,0.15,
-0.15,0.15,-0.15,0.15,-0.15,0.15,-0.15,0.15,-0.15,0.15,
-0.15,0.15,-0.15,0.15,-0.15,0.15,-0.15,0.15,-0.15,0.15,
-0.15,0.15,-0.15,0.15,-0.15,0.15,-0.15,0.15,-0.15,0.15,
-0.12,0.12,-0.12,0.12,-0.12,0.12,-0.12,0.12,-0.12,0.12,
-0.12,0.12,-0.12,0.12,-0.12,0.12,-0.12,0.12,-0.12,0.12,
-0.12,0.12,-0.12,0.12,-0.12,0.12,-0.12,0.12,-0.12,0.12,
-0.12,0.12,-0.12,0.12,-0.12,0.12,-0.12,0.12,-0.12,0.12,
-0.12,0.12,-0.12,0.12,-0.12,0.12,-0.12,0.12,-0.12,0.12,
-0.12,0.12,-0.12,0.12,-0.12,0.12,-0.12,0.12,-0.12,0.12,
0]
C9 = [0,0,0,0,0,0,0.3,-0.3,0.3,-0.3,
0.3,-0.3,0.3,-0.3,0.3,-0.3,0.3,-0.3,0.7,-0.7,
0.5,-0.5,0.5,-0.5,0.5,-0.5,0.5,-0.2,0.2,-0.2,
0.2,-0.2,0.2,-0.2,0.2,-0.2,0.2,-0.2,0.2,-0.2,
0.2,-0.2,0.2,-0.2,0.2,-0.2,0.2,-0.2,0.2,-0.2,
0.2,-0.2,0.2,-0.2,0.2,-0.2,0.2,-0.2,0.2,-0.2,
0.35,-0.35,0.2,-0.2,0.2,-0.2,0.2,-0.2,0.2,-0.2,
0.35,-0.35,0.2,-0.2,0.2,-0.2,0.2,-0.2,0.2,-0.2,
0.35,-0.35,0.2,-0.2,0.2,-0.2,0.2,-0.2,0.2,-0.2,
0.15,-0.15,0.15,-0.15,0.15,-0.15,0.15,-0.15,0.15,-0.15,
0.15,-0.15,0.15,-0.15,0.15,-0.15,0.15,-0.15,0.15,-0.15,
0.15,-0.15,0.15,-0.15,0.15,-0.15,0.15,-0.15,0.15,-0.15,
0.15,-0.15,0.15,-0.15,0.15,-0.15,0.15,-0.15,0.15,-0.15,
0.15,-0.15,0.15,-0.15,0.15,-0.15,0.15,-0.15,0.15,-0.15,
0.15,-0.15,0.15,-0.15,0.15,-0.15,0.15,-0.15,0.15,-0.15,
0]
C10 = [0,0,0,0,0,0,0.1,-0.1,0.1,-0.1,
0.1,-0.1,0.35,-0.35,0.35,-0.35,0.3,-0.3,0.3,-0.3,
0.55,-0.5,0.55,-0.5,0.3,-0.3,0.3,-0.3,0.12,-0.12,
0.12,-0.12,0.12,-0.12,0.12,-0.12,0.12,-0.12,0.12,-0.12,
0.12,-0.12,0.12,-0.12,0.12,-0.12,0.12,-0.12,0.12,-0.12,
0.12,-0.12,0.12,-0.12,0.12,-0.12,0.12,-0.12,0.45,-0.42,
0.45,-0.42,0.12,-0.12,0.12,-0.12,0.12,-0.12,0.12,-0.12,
0.12,-0.12,0.12,-0.12,0.12,-0.12,0.2,-0.2,0.08,-0.08,
0.08,-0.08,0.08,-0.08,0.08,-0.08,0.08,-0.08,0.08,-0.08,
0.08,-0.08,0.08,-0.08,0.08,-0.08,0.08,-0.08,0.08,-0.08,
0.08,-0.08,0.08,-0.08,0.08,-0.08,0.08,-0.08,0.08,-0.03,
0.03,-0.03,0.03,-0.03,0.03,-0.03,0.03,-0.03,0.03,-0.03,
0.03,-0.03,0.03,-0.03,0.03,-0.03,0.03,-0.03,0.03,-0.03,
0.03,-0.03,0.03,-0.03,0.03,-0.03,0.03,-0.03,0.03,-0.03,
0.03,-0.03,0.03,-0.03,0.03,-0.03,0.03,-0.03,0.03,-0.03,
0]

# ---------------- column (d) ----------------
D1 = [0,0,0,0,0,0,0,0,0,0,
-0.2,-0.5,0,1,3.4,0,1.5,0.5,-2.3,1,
-1.5,-1,-1.8,2.3,1,2,0.5,1,-1.5,-4.1,
-0.5,3.6,1,-0.5,1.5,0,-1.5,-3.5,-0.5,1,
2.2,0,0.5,1.5,0,-2,-0.5,1,2.5,0,
-1,2.5,0.5,-1.5,0,1,0.5,1.8,0.5,1,
0,-1,-2,-0.5,0.5,1.5,4.5,-2.5,2,7,
2,-3,-0.5,2,0,-2.5,3.2,0,-1,-2,
1.5,6.1,2,-3,-7.5,-2,2.8,0,-1,0.5,
2.8,0,-2.5,0,1,0,-2.5,0,2.3,0.5,
-0.5,0.5,2.5,-1,-1.5,-2.5,0,0.5,0.5,1,
2.5,0.5,-1.5,0,1,2.5,0.5,-0.5,0,0.3,
0,0.3,0.3,0.5,0,-0.8,0,0.3,0.5,0,
0.3,0.2,0,-0.3,-0.5,0.5,0.2,0,0,0,
-0.2,-0.2,-0.3,-0.2,0,0.2,0.3,0.5,0.3,0,
0]
D2 = [0,0,0,0,0,0,0.2,-0.2,0.2,-0.2,
0.9,-0.9,2.5,-1.5,1.5,-0.9,0.9,-0.9,0.9,-0.9,
0.9,5.9,-4.5,4,-3.5,3.5,-3.5,5,-4.5,2,
-2,6.8,-7.3,6,-2.5,2.5,-2.5,1.8,-1.8,1.8,
-1.8,2.3,-1.8,1.8,-1.8,1.8,-1.8,2.5,-1.8,1.2,
-1.2,1.2,-1.2,1.2,-1.2,1.2,-1.2,1.2,-1.2,1.2,
-1.2,1.2,-1.2,-2.2,2,-2,1.5,4.1,-3.2,3,
-2,2,-2,2,-2,2,-1.3,1.3,-1.3,1.3,
-1.3,1.3,-1.3,2,-2,1,-1,1,-1,1,
-1,1,-1,1,-1,1,-1,1,-1,1,
-1,1,-1,1,-0.5,0.5,-0.5,0.5,-0.5,0.5,
-0.5,0.5,-0.5,0.5,-0.5,0.5,-0.5,0.5,-0.5,0.5,
-0.45,0.45,-0.45,0.45,-0.45,0.45,-0.45,0.45,-0.45,0.45,
-0.45,0.45,-0.45,0.45,-0.45,0.45,-0.45,0.45,-0.45,0.45,
-0.4,0.4,-0.4,0.4,-0.4,0.4,-0.4,0.4,-0.4,0.4,
0]
D3 = [0,0,0,0,0,0.7,-0.9,0.9,-0.9,0.9,
-0.9,0.9,-0.9,0.9,-0.9,0.9,-0.9,3,-3,3,
6.4,-5.9,6,-5,6.4,-7,2.5,-2.5,2.5,-1.2,
1.2,-1.2,1.2,-1.2,1.2,-1.2,1.2,-1.5,1.5,-1.2,
1.2,-1.2,1.2,-1.2,1.2,-1.2,1.2,-1.2,1.2,-1.6,
1.6,-1,1,-1,1,-1,1,-1,1,-1,
1,-1,1,-1,1,-1,2.7,-3,1.2,-1.2,
1.2,-1.2,1.2,-1.2,1.2,-1.2,1.2,-1.2,1.6,-1.6,
0.4,-0.4,0.4,-0.4,0.4,-0.4,0.4,-0.4,0.4,-0.4,
0.4,-0.4,0.4,-0.4,0.4,-0.4,0.4,-0.4,0.4,-0.4,
0.4,-0.4,0.4,-0.4,0.4,-0.4,0.4,-0.4,0.4,-0.4,
0.4,-0.4,0.4,-0.4,0.4,0.2,-0.2,0.2,-0.2,0.2,
-0.2,0.2,-0.2,0.2,-0.2,0.2,-0.2,0.2,-0.2,0.2,
-0.2,0.2,-0.2,0.2,-0.2,0.2,-0.2,0.2,-0.2,0.2,
-0.2,0.2,-0.2,0.2,-0.2,0.2,-0.2,0.2,-0.2,0.2,
0]
D4 = [0,0,0,0,0,0,1,-1,1,-1,
1,-1,1,-1,1,-1,1,2.7,-2.7,2.7,
-2.7,14,-13.6,5,-5,4,-4,1.8,-1.8,1.8,
-1.8,1.8,-1.8,1.8,-1.8,1.8,-1.8,2.5,-2.5,1.8,
-1.2,1.2,-1.2,1.2,-1.2,1.2,-1.2,1.2,-1.2,1.2,
-1.2,1.2,-1.2,1.2,-1.2,1.2,-1.2,1.2,-1.2,1.2,
-1.2,1.2,-1.2,1.2,-1.2,1.2,-1.2,1.2,-1.2,1.2,
-1.2,1.2,-1.2,1.2,-1.2,1.2,-1.2,1.2,-1.2,1.2,
-1.2,1.2,-1.2,1.2,-1.2,1.2,-0.6,0.6,-0.6,0.6,
-0.6,0.6,-0.6,0.6,-0.2,0.2,-0.2,0.2,-0.2,0.2,
-0.2,0.2,-0.2,0.2,-0.2,0.2,-0.2,0.2,-0.2,0.2,
-0.2,0.2,-0.2,0.2,-0.2,0.2,-0.2,0.2,-0.2,0.2,
-0.2,0.2,-0.2,0.2,-0.2,0.2,-0.2,0.2,-0.2,0.2,
-0.2,0.2,-0.2,0.2,-0.2,0.2,-0.2,0.2,-0.2,0.2,
-0.2,0.2,-0.2,0.2,-0.2,0.2,-0.2,0.2,-0.2,0.2,
0]
D5 = [0,0,0,0,0,0.6,-0.6,0.6,-0.6,0.6,
-0.6,0.6,-0.6,0.6,2.7,-2.9,2.7,-2.9,2.7,-4,
6,-8.4,8,-6,5,-2.1,2.1,-2.1,2.1,-1.2,
1.2,-1.2,1.2,-1.2,1.2,1.5,-1.5,1.2,-1.2,1.2,
-1.2,1.2,-1.5,1.5,-1.2,1.2,-1.2,1.2,-1.2,1.5,
-1.5,1.2,-1.2,1.2,-1.2,1.2,-1.2,1.2,-1.2,1.2,
-1.2,1.2,-1.2,1.2,-1.2,1.2,1.5,-1.5,1.2,-1.2,
1.2,-1.2,1.2,-1.2,1.2,-1.2,1.2,1.5,-1.5,0.4,
-0.4,0.4,-0.4,0.4,-0.4,0.4,-0.4,0.4,-0.4,0.4,
-0.4,0.4,-0.4,0.4,-0.4,0.4,-0.4,0.4,-0.4,0.4,
-0.4,0.4,-0.4,0.4,-0.4,0.4,-0.4,0.4,-0.4,0.4,
-0.4,0.4,-0.4,0.4,-0.4,0.4,-0.4,0.4,-0.4,0.1,
-0.1,0.1,-0.1,0.1,-0.1,0.1,-0.1,0.1,-0.1,0.1,
-0.1,0.1,-0.1,0.1,-0.1,0.1,-0.1,0.1,-0.1,0.1,
-0.1,0.1,-0.1,0.1,-0.1,0.1,-0.1,0.1,-0.1,0.1,
0]
D6 = [0,0,0,0,0,1,-1,1,-1,1.3,
-1.3,1,-1,1,-1,1,-1,1,-1,4.7,
-4.5,4.7,-4.5,2.5,-2.5,2.5,-2.5,1.3,-1.3,2.7,
-2.7,2.7,-2.7,1.3,-1.3,1.3,-1.3,1.3,-1.3,1.3,
-0.9,0.9,-0.9,0.9,-0.9,0.9,-0.9,0.9,-0.9,0.9,
1.4,-1.4,0.9,-0.9,0.9,-0.9,0.8,-0.8,0.8,-0.8,
0.8,-0.8,0.8,-0.8,0.8,-0.8,0.8,-0.8,0.8,-0.8,
0.8,-0.8,1.6,-1.6,0.6,-0.6,0.6,-0.6,0.6,-0.6,
0.6,-0.6,0.6,-0.6,0.6,-0.6,0.6,-0.6,0.6,-0.6,
0.6,-0.6,0.6,-0.6,0.6,-0.6,0.6,-0.6,0.6,-0.3,
0.3,-0.3,0.3,-0.3,0.3,-0.3,0.3,-0.3,0.3,-0.3,
0.3,-0.3,0.3,-0.3,0.3,-0.3,0.3,-0.3,0.3,-0.3,
0.3,-0.3,0.3,-0.3,0.3,-0.3,0.3,-0.3,0.3,-0.3,
0.3,-0.3,0.1,-0.1,0.1,-0.1,0.1,-0.1,0.1,-0.1,
0.1,-0.1,0.1,-0.1,0.1,-0.1,0.1,-0.1,0.1,-0.1,
0]
D7 = [0,0,0,0,0,0.6,-0.6,0.9,-0.9,0.6,
-0.6,0.6,-0.6,0.6,3.5,-3.5,3.5,-3.5,3.5,-3.5,
4.7,-5,4.7,-5,4.7,-5,4.7,1.3,-1.3,1.3,
-1.3,1.3,-1.3,1.3,-0.8,0.8,-0.8,0.8,-0.8,0.8,
-0.8,0.8,-0.8,0.8,-0.8,0.8,-0.8,0.8,-0.8,0.8,
1.3,-1.2,0.8,-0.8,0.8,-0.8,0.8,-0.8,0.8,-0.8,
0.8,-0.8,0.8,-0.8,0.8,-0.8,0.8,-0.8,0.8,-0.8,
0.8,-0.8,0.8,-0.8,1.1,-1.1,0.8,-0.8,0.8,-0.3,
0.3,-0.3,0.3,-0.3,0.3,-0.3,0.3,-0.3,0.3,-0.3,
0.3,-0.3,0.3,-0.3,0.3,-0.3,0.3,-0.3,0.3,-0.3,
0.12,-0.12,0.12,-0.12,0.12,-0.12,0.12,-0.12,0.12,-0.12,
0.12,-0.12,0.12,-0.12,0.12,-0.12,0.12,-0.12,0.12,-0.12,
0.12,-0.12,0.12,-0.12,0.12,-0.12,0.12,-0.12,0.12,-0.12,
0.12,-0.12,0.12,-0.12,0.12,-0.12,0.12,-0.12,0.12,-0.12,
0.12,-0.12,0.12,-0.12,0.12,-0.12,0.12,-0.12,0.12,-0.12,
0]
D8 = [0,0,0,0,0,0.6,-0.6,0.8,-0.8,0.6,
-0.6,0.6,-0.6,0.6,1.5,-1.5,1.5,-1.5,1.5,3.2,
-3.2,3.2,-3.2,2.7,-2.7,2.7,-2.7,1.6,-1.6,1.6,
-0.6,0.6,-0.6,0.6,-0.6,0.6,-0.6,0.6,-0.6,0.6,
-0.6,0.6,0.9,-0.9,0.6,-0.6,0.6,-0.6,0.6,-0.6,
0.6,-0.6,0.6,-0.6,0.9,-0.9,0.6,-0.6,0.6,-0.6,
0.6,0.9,-0.9,0.6,-0.6,0.6,-0.6,0.6,-0.6,0.6,
-0.6,0.6,0.9,-0.9,0.6,-0.6,0.6,-0.6,0.6,-0.2,
0.2,-0.2,0.2,-0.2,0.2,-0.2,0.2,-0.2,0.2,-0.2,
0.2,-0.2,0.2,-0.2,0.2,-0.2,0.2,-0.2,0.2,-0.2,
0.2,-0.2,0.2,-0.2,0.2,-0.2,0.2,-0.2,0.2,-0.2,
0.2,-0.2,0.2,-0.2,0.2,-0.2,0.2,-0.2,0.2,-0.2,
0.2,-0.2,0.2,-0.2,0.2,-0.2,0.2,-0.2,0.2,-0.2,
0.2,-0.2,0.2,-0.2,0.2,-0.2,0.2,-0.2,0.2,-0.2,
0.2,-0.2,0.2,-0.2,0.2,-0.2,0.2,-0.2,0.2,-0.2,
0]
D9 = [0,0,0,0,0,0.4,-0.4,0.4,-0.4,0.4,
-0.4,0.4,-0.4,0.4,0.7,-0.7,0.7,-0.7,0.7,-0.4,
1,-1,1,-0.9,0.9,-0.9,0.9,0.4,-0.4,0.4,
-0.4,0.6,-0.6,0.4,-0.4,0.4,-0.4,0.4,-0.4,0.4,
-0.4,0.4,-0.4,0.4,-0.4,0.4,-0.4,0.4,-0.4,0.4,
-0.4,0.6,-0.6,0.4,-0.4,0.4,-0.4,0.4,-0.4,0.4,
-0.4,0.4,-0.4,0.4,-0.4,0.4,-0.4,0.4,-0.4,0.4,
-0.4,0.4,-0.4,0.6,-0.6,0.4,-0.4,0.4,-0.4,0.4,
-0.4,0.4,-0.4,0.4,-0.4,0.4,-0.15,0.15,-0.15,0.15,
-0.15,0.15,-0.15,0.15,-0.15,0.15,-0.15,0.15,-0.15,0.15,
-0.15,0.15,-0.15,0.15,-0.15,0.15,-0.15,0.15,-0.15,0.15,
-0.15,0.15,-0.15,0.15,-0.15,0.15,-0.15,0.15,-0.15,0.15,
-0.15,0.15,-0.15,0.15,-0.15,0.15,-0.15,0.15,-0.15,0.15,
-0.15,0.15,-0.15,0.15,-0.15,0.15,-0.15,0.15,-0.15,0.15,
-0.15,0.15,-0.15,0.15,-0.15,0.15,-0.15,0.15,-0.15,0.15,
0]
D10 = [0,0,0,0,0,0.2,-0.2,0.2,-0.2,0.2,
-0.2,0.2,-0.2,0.2,0.55,-0.5,0.55,-0.5,0.55,-0.3,
0.3,1,-1,1,-0.5,0.5,0.8,-0.75,0.3,-0.3,
0.3,0.4,-0.4,0.15,-0.15,0.15,-0.15,0.15,-0.15,0.15,
-0.15,0.15,-0.15,0.15,-0.15,0.15,-0.15,0.15,-0.15,0.15,
0.25,-0.25,0.15,-0.15,0.25,-0.25,0.15,-0.15,0.15,-0.15,
0.15,0.25,-0.25,0.15,-0.15,0.15,-0.15,0.15,-0.15,0.15,
-0.15,0.15,0.25,-0.25,0.15,-0.15,0.15,-0.15,0.15,-0.15,
0.08,-0.08,0.08,-0.08,0.08,-0.08,0.08,-0.08,0.08,-0.08,
0.08,-0.08,0.08,-0.08,0.08,-0.08,0.08,-0.08,0.08,-0.08,
0.08,-0.08,0.08,-0.08,0.08,-0.08,0.04,-0.04,0.04,-0.04,
0.04,-0.04,0.04,-0.04,0.04,-0.04,0.04,-0.04,0.04,-0.04,
0.04,-0.04,0.04,-0.04,0.04,-0.04,0.04,-0.04,0.04,-0.04,
0.04,-0.04,0.04,-0.04,0.04,-0.04,0.04,-0.04,0.04,-0.04,
0.04,-0.04,0.04,-0.04,0.04,-0.04,0.04,-0.04,0.04,-0.04,
0]

COLUMNS = [
    [A1, A2, A3, A4, A5, A6, A7, A8, A9, A10],
    [B1, B2, B3, B4, B5, B6, B7, B8, B9, B10],
    [C1, C2, C3, C4, C5, C6, C7, C8, C9, C10],
    [D1, D2, D3, D4, D5, D6, D7, D8, D9, D10],
]

# ---------------- layout geometry (pixels) ----------------
COL_LEFT = [164, 981, 1795, 2607]
COL_W = 598
ROW_TOP0 = 99
ROW_STEP = 163.3
ROW_H = 135
FRAME_TOP = 94
FRAME_BOTTOM = 1708
FONT = "Liberation Serif"
FRAME_COLOR = "#262626"

fig = go.Figure()
layout = dict(
    width=W, height=H,
    margin=dict(l=0, r=0, t=0, b=0, pad=0, autoexpand=False),
    paper_bgcolor="white", plot_bgcolor="rgba(0,0,0,0)",
    showlegend=False,
    font=dict(family=FONT, size=56, color="black"),
)
shapes = []
annotations = []

for c in range(4):
    x0 = COL_LEFT[c] / W
    x1 = (COL_LEFT[c] + COL_W) / W
    first_n = c * 10 + 1
    col_xref = "x" if first_n == 1 else f"x{first_n}"
    for r in range(10):
        n = c * 10 + r + 1
        xa = "x" if n == 1 else f"x{n}"
        ya = "y" if n == 1 else f"y{n}"
        top = ROW_TOP0 + r * ROW_STEP
        yd1 = 1 - top / H
        yd0 = 1 - (top + ROW_H) / H
        vals = COLUMNS[c][r]
        fig.add_trace(go.Scatter(
            x=T_MS[:len(vals)], y=vals, mode="lines",
            line=dict(color="#0000FF", width=6,
                      shape="spline" if r == 0 else "linear"),
            xaxis=xa, yaxis=ya, hoverinfo="skip"))
        a = Y_TICK[r]
        key = "" if n == 1 else str(n)
        layout["xaxis" + key] = dict(
            domain=[x0, x1], range=[0, 150], anchor=ya, automargin=False,
            showgrid=False, zeroline=False, showline=True, mirror=True,
            linewidth=6, linecolor=FRAME_COLOR, ticks="",
            tickmode="array", tickvals=X_TICKS,
            ticktext=[str(v) for v in X_TICKS],
            showticklabels=(r == 9), ticklabelstandoff=-16,
            tickfont=dict(family=FONT, size=57), fixedrange=True)
        layout["yaxis" + key] = dict(
            domain=[yd0, yd1], range=[-1.25 * a, 1.25 * a], anchor=xa,
            automargin=False,
            showgrid=False, zeroline=False, showline=True, mirror=True,
            linewidth=6, linecolor=FRAME_COLOR, ticks="",
            tickmode="array", tickvals=[-a, 0, a],
            ticktext=[f"-{a}", "0", f"{a}"],
            tickfont=dict(family=FONT, size=58), fixedrange=True)

    # vertical dashed guides running through the whole column
    for g in GRID_MS:
        shapes.append(dict(type="line", xref=col_xref, yref="paper",
                           x0=g, x1=g, y0=1 - FRAME_BOTTOM / H, y1=1 - FRAME_TOP / H,
                           line=dict(color="#303030", width=6, dash="11px,7px"),
                           layer="below"))
    # t_S marker
    shapes.append(dict(type="line", xref=col_xref, yref="paper",
                       x0=TS_MS, x1=TS_MS, y0=1 - FRAME_BOTTOM / H, y1=1 - FRAME_TOP / H,
                       line=dict(color="#FF0000", width=6, dash="8px,5px"),
                       layer="above"))
    annotations.append(dict(x=TS_MS, xref=col_xref, y=1 - 46 / H, yref="paper",
                            text="<i>t</i><sub>S</sub>", showarrow=False,
                            font=dict(family=FONT, size=72, color="#FF0000"),
                            xanchor="center", yanchor="middle"))
    annotations.append(dict(x=(COL_LEFT[c] - 122) / W, y=1 - 899 / H,
                            xref="paper", yref="paper", text="Amplitude",
                            textangle=-90, showarrow=False,
                            font=dict(family=FONT, size=64),
                            xanchor="center", yanchor="middle"))
    annotations.append(dict(x=(COL_LEFT[c] + COL_W / 2) / W, y=1 - 1804 / H,
                            xref="paper", yref="paper", text="Time (ms)",
                            showarrow=False, font=dict(family=FONT, size=61),
                            xanchor="center", yanchor="middle"))
    annotations.append(dict(x=(COL_LEFT[c] + COL_W / 2 - 80) / W, y=1 - 1893 / H,
                            xref="paper", yref="paper",
                            text=f"(<b>{PANEL_LABELS[c]}</b>)",
                            showarrow=False, font=dict(family=FONT, size=62),
                            xanchor="center", yanchor="middle"))

layout["shapes"] = shapes
layout["annotations"] = annotations
fig.update_layout(**layout)
fig.write_html("out.html")
